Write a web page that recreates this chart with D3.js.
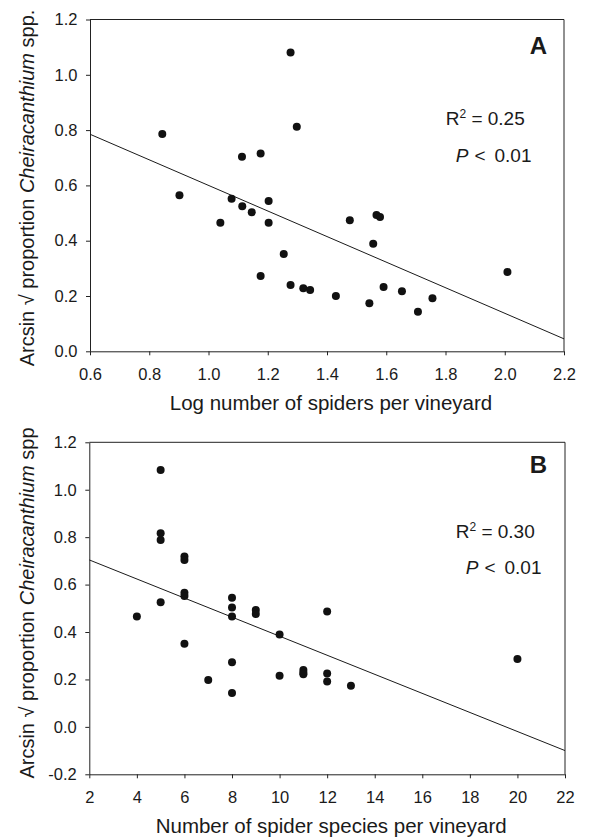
<!DOCTYPE html>
<html><head><meta charset="utf-8">
<script src="https://cdn.jsdelivr.net/npm/d3@7"></script>
<style>
body{margin:0;background:#fff}
svg{display:block}
text{font-family:"Liberation Sans",Arial,Helvetica,sans-serif;fill:#1a1a1a}
</style>
</head><body>
<svg id="c" width="589" height="837"></svg>
<script>
// ---- Panel A data: log number of spiders per vineyard vs arcsin sqrt proportion ----
const logSpiders = [1.277,0.844,1.113,1.176,1.298,0.902,1.040,1.078,1.114,1.146,1.203,1.203,1.254,1.176,1.277,1.320,1.343,1.430,1.477,1.567,1.579,1.556,1.543,1.591,1.653,1.707,1.756,2.009];
const propA      = [1.081,0.786,0.704,0.715,0.812,0.564,0.465,0.552,0.525,0.503,0.544,0.465,0.352,0.272,0.240,0.228,0.222,0.200,0.474,0.493,0.486,0.389,0.174,0.233,0.217,0.143,0.192,0.287];
const fitA = [[0.6,0.785],[2.2,0.045]];
const xTicksA = [0.6,0.8,1.0,1.2,1.4,1.6,1.8,2.0,2.2];
const xTickLabelsA = ["0.6","0.8","1.0","1.2","1.4","1.6","1.8","2.0","2.2"];
const yTicksA = [0,0.2,0.4,0.6,0.8,1.0,1.2];
const yTickLabelsA = ["0.0","0.2","0.4","0.6","0.8","1.0","1.2"];

// ---- Panel B data: number of spider species per vineyard ----
const speciesCount = [5,5,5,5,4,6,6,6,6,6,7,8,8,8,8,8,9,9,10,10,11,11,11,12,12,12,13,20];
const propB        = [1.083,0.816,0.788,0.525,0.465,0.718,0.704,0.566,0.552,0.351,0.198,0.545,0.503,0.465,0.272,0.143,0.493,0.476,0.389,0.216,0.240,0.228,0.222,0.486,0.225,0.191,0.173,0.286];
const fitB = [[2,0.704],[22,-0.100]];
const xTicksB = [2,4,6,8,10,12,14,16,18,20,22];
const xTickLabelsB = ["2","4","6","8","10","12","14","16","18","20","22"];
const yTicksB = [-0.2,0,0.2,0.4,0.6,0.8,1.0,1.2];
const yTickLabelsB = ["-0.2","0.0","0.2","0.4","0.6","0.8","1.0","1.2"];

const svg = d3.select("#c");

function panel(o){
  const x = d3.scaleLinear().domain(o.xDomain).range([o.left, o.right]);
  const y = d3.scaleLinear().domain(o.yDomain).range([o.bottom, o.top]);
  const g = svg.append("g");

  // frame top/right
  g.append("path").attr("d",`M${o.left},${o.top}H${o.right}V${o.bottom}`)
    .attr("fill","none").attr("stroke","#222").attr("stroke-width",1);

  const xa = d3.axisBottom(x).tickValues(o.xTicks)
    .tickFormat((d,i)=>o.xLabels[i]).tickSize(4).tickSizeOuter(0).tickPadding(13);
  const gx = g.append("g").attr("transform",`translate(0,${o.bottom})`).call(xa);
  const ya = d3.axisLeft(y).tickValues(o.yTicks)
    .tickFormat((d,i)=>o.yLabels[i]).tickSize(4).tickSizeOuter(0).tickPadding(8.5);
  const gy = g.append("g").attr("transform",`translate(${o.left},0)`).call(ya);
  [gx,gy].forEach(a=>{
    a.selectAll("path,line").attr("stroke","#222");
    a.selectAll("text").style("font-size","16.5px").attr("fill","#1a1a1a");
    a.attr("font-family",null).attr("font-size",null);
  });

  // fitted line
  g.append("path").datum(o.fit)
    .attr("d", d3.line().x(d=>x(d[0])).y(d=>y(d[1])))
    .attr("fill","none").attr("stroke","#1a1a1a").attr("stroke-width",1);

  // points
  g.selectAll("circle.pt").data(o.xs).join("circle").attr("class","pt")
    .attr("cx",(d)=>x(d)).attr("cy",(d,i)=>y(o.ys[i])).attr("r",4).attr("fill","#111");

  // panel letter
  g.append("text").attr("x",o.letterX).attr("y",o.letterY).attr("text-anchor","end")
    .style("font-size","24px").style("font-weight","bold").text(o.letter);

  // R2
  const r = g.append("text").attr("x",o.rX).attr("y",o.rY).style("font-size","19px");
  r.append("tspan").text("R");
  r.append("tspan").attr("dy",-7).style("font-size","12px").text("2");
  r.append("tspan").attr("dy",7).text(" = " + o.r2);
  const p = g.append("text").attr("x",o.pX).attr("y",o.pY).style("font-size","19px");
  p.append("tspan").style("font-style","italic").text("P");
  p.append("tspan").attr("dx",6).text("<");
  p.append("tspan").attr("dx",9).text("0.01");

  // x title
  g.append("text").attr("x",(o.left+o.right)/2+4).attr("y",o.bottom+59)
    .attr("text-anchor","middle").style("font-size","20.5px").text(o.xTitle);

  // y title
  const yt = g.append("text").attr("transform",`translate(33.5,${o.yTitleC}) rotate(-90)`)
    .attr("text-anchor","middle").style("font-size","20px");
  yt.append("tspan").text("Arcsin \u221A proportion ");
  yt.append("tspan").style("font-style","italic").text("Cheiracanthium");
  yt.append("tspan").text(" " + o.spp);
}

panel({xDomain:[0.6,2.2], yDomain:[0,1.2], left:90, right:564, top:19.5, bottom:351.3,
  xTicks:xTicksA, xLabels:xTickLabelsA, yTicks:yTicksA, yLabels:yTickLabelsA,
  fit:fitA, xs:logSpiders, ys:propA, letter:"A", letterX:547, letterY:53.5,
  r2:"0.25", rX:445.7, rY:125, pX:455.7, pY:161.7,
  xTitle:"Log number of spiders per vineyard", yTitleC:188, spp:"spp."});

panel({xDomain:[2,22], yDomain:[-0.2,1.2], left:89.3, right:565, top:442.3, bottom:774.3,
  xTicks:xTicksB, xLabels:xTickLabelsB, yTicks:yTicksB, yLabels:yTickLabelsB,
  fit:fitB, xs:speciesCount, ys:propB, letter:"B", letterX:547, letterY:473.3,
  r2:"0.30", rX:455.7, rY:538.3, pX:465.7, pY:574,
  xTitle:"Number of spider species per vineyard", yTitleC:603, spp:"spp"});
</script>
</body></html>
